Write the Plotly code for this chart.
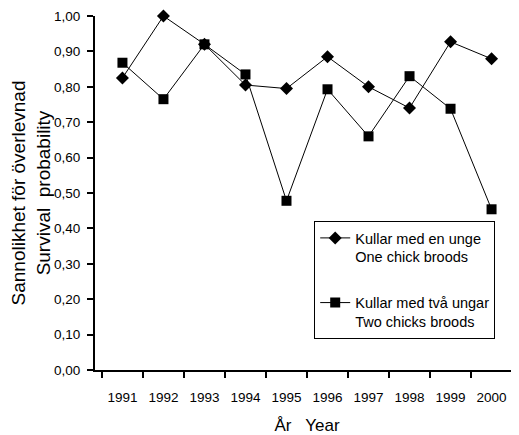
import plotly.graph_objects as go

years = ["1991", "1992", "1993", "1994", "1995", "1996", "1997", "1998", "1999", "2000"]
one_chick = [0.825, 1.00, 0.92, 0.805, 0.795, 0.885, 0.80, 0.74, 0.927, 0.879]
two_chicks = [0.868, 0.765, 0.92, 0.835, 0.478, 0.793, 0.66, 0.83, 0.738, 0.454]
y_ticks = [0.0, 0.1, 0.2, 0.3, 0.4, 0.5, 0.6, 0.7, 0.8, 0.9, 1.0]
y_ticktext = ["0,00", "0,10", "0,20", "0,30", "0,40", "0,50", "0,60", "0,70", "0,80", "0,90", "1,00"]

font_family = "Liberation Sans, Arial, sans-serif"

fig = go.Figure()
fig.add_trace(go.Scatter(
    x=years, y=one_chick, mode="lines+markers",
    name="Kullar med en unge<br>One chick broods",
    legendgroup="a",
    line=dict(color="black", width=1),
    marker=dict(symbol="diamond", size=10, color="black"),
    cliponaxis=False,
))
fig.add_trace(go.Scatter(
    x=years, y=two_chicks, mode="lines+markers",
    name="Kullar med två ungar<br>Two chicks broods",
    legendgroup="b",
    line=dict(color="black", width=1),
    marker=dict(symbol="square", size=10, color="black"),
    cliponaxis=False,
))

# page body has an 8px default margin, so the figure is sized 8px smaller
fig.update_layout(
    width=511, height=427,
    margin=dict(l=87, r=0, t=8, b=65, autoexpand=False),
    paper_bgcolor="white", plot_bgcolor="white",
    font=dict(family=font_family, color="black", size=13),
    legend=dict(
        x=0.517, y=0.421, xanchor="left", yanchor="top",
        bgcolor="white", bordercolor="black", borderwidth=1,
        font=dict(size=14.5, family=font_family),
        valign="top", traceorder="grouped", tracegroupgap=24,
    ),
    xaxis=dict(
        type="category", tickson="boundaries", automargin=False,
        showline=True, linecolor="black", linewidth=2,
        ticks="outside", ticklen=6, tickwidth=2, tickcolor="black",
        showgrid=False, zeroline=False,
        tickfont=dict(size=13.5),
        ticklabelstandoff=14,
        title=dict(text="År   Year", font=dict(size=17), standoff=15),
    ),
    yaxis=dict(
        range=[0, 1], tickvals=y_ticks, ticktext=y_ticktext, automargin=False,
        showline=True, linecolor="black", linewidth=2,
        ticks="outside", ticklen=6, tickwidth=2, tickcolor="black",
        showgrid=False, zeroline=False,
        tickfont=dict(size=13.5),
        ticklabelstandoff=4,
        title=dict(text="Sannolikhet för överlevnad<br>Survival  probability",
                   font=dict(size=19), standoff=8),
    ),
)

fig.write_html("out.html")
